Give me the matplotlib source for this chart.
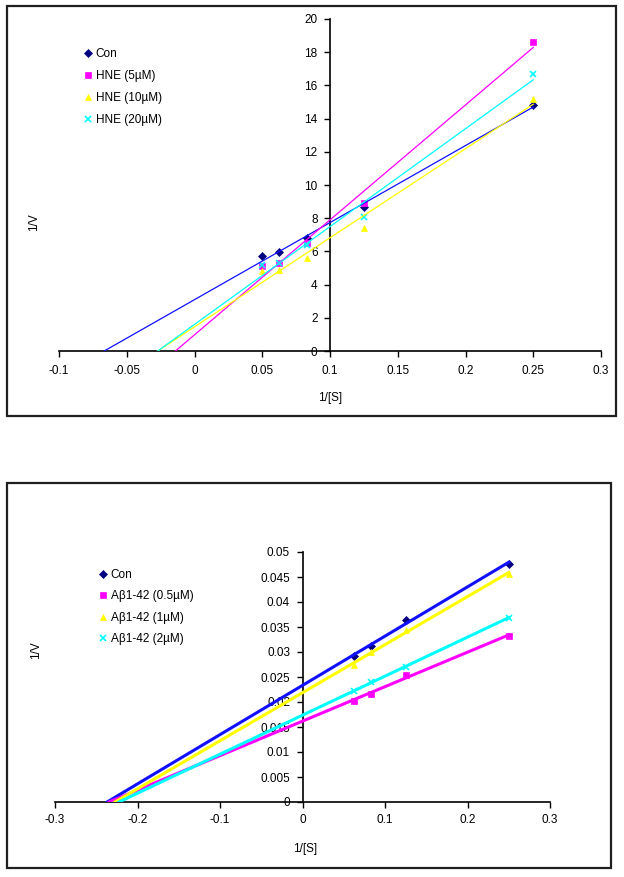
import numpy as np
import matplotlib.pyplot as plt
from matplotlib.patches import Rectangle
from matplotlib.ticker import FuncFormatter

plt.rcParams['font.family'] = ['Liberation Sans', 'DejaVu Sans']

# Top panel: HNE
hne_x = [0.05, 0.0625, 0.0833, 0.125, 0.25]
hne_con = [5.72, 5.94, 6.8, 8.7, 14.8]
hne_5 = [5.1, 5.3, 6.5, 8.9, 18.6]
hne_10 = [4.8, 4.9, 5.6, 7.4, 15.2]
hne_20 = [5.2, 5.3, 6.4, 8.05, 16.7]
hne_labels = ['Con', 'HNE (5µM)', 'HNE (10µM)', 'HNE (20µM)']

# Bottom panel: Abeta
ab_x = [0.0625, 0.0833, 0.125, 0.25]
ab_con = [0.0292, 0.0312, 0.0365, 0.0477]
ab_05 = [0.0202, 0.0217, 0.0255, 0.0332]
ab_1 = [0.0274, 0.0300, 0.0344, 0.0457]
ab_2 = [0.0222, 0.0240, 0.0270, 0.0369]
ab_labels = ['Con', 'Aβ1-42 (0.5µM)', 'Aβ1-42 (1µM)', 'Aβ1-42 (2µM)']

marker_colors = ['#000080', '#ff00ff', '#ffff00', '#00ffff']
line_colors = ['#1010ff', '#ff00ff', '#ffff00', '#00ffff']
markers = ['D', 's', '^', 'x']

W, H = 624, 877
fig = plt.figure(figsize=(W / 100, H / 100), dpi=100)


def fig_rect(x0, y0, x1, y1):
    # pixel box (top-left origin) -> figure fraction
    return [x0 / W, 1 - y1 / H, (x1 - x0) / W, (y1 - y0) / H]


# outer frames
for box in [(7, 6, 616, 416), (7, 483, 611, 868)]:
    r = fig_rect(*box)
    fig.patches.append(Rectangle((r[0], r[1]), r[2], r[3], transform=fig.transFigure,
                                 fill=False, edgecolor='#202020', linewidth=1.6))


def style_axes(ax, xpos, xlim, ylim, xticks, yticks, lab_xy, ylab_xy, xpad):
    ax.set_xlim(xlim)
    ax.set_ylim(ylim)
    ax.spines['top'].set_visible(False)
    ax.spines['right'].set_visible(False)
    ax.spines['left'].set_position(('data', xpos))
    ax.spines['bottom'].set_position(('data', 0))
    ax.set_xticks(xticks)
    ax.set_yticks(yticks)
    fmt = FuncFormatter(lambda v, p: f'{round(v, 4):g}')
    ax.xaxis.set_major_formatter(fmt)
    ax.yaxis.set_major_formatter(fmt)
    ax.tick_params(axis='y', direction='out', length=4, width=1, pad=5, labelsize=8.5)
    ax.tick_params(axis='x', direction='out', length=4, width=1, pad=xpad, labelsize=8.5)
    for s in ['left', 'bottom']:
        ax.spines[s].set_linewidth(1.2)
    ax.set_xlabel('1/[S]', fontsize=8.5)
    ax.set_ylabel('1/V', fontsize=8.5)
    ax.xaxis.set_label_coords(*lab_xy)
    ax.yaxis.set_label_coords(*ylab_xy)
    ax.patch.set_visible(False)


def draw_series(ax, xs, series, labels, lw, ms):
    for ys, lab, mc, lc, mk in zip(series, labels, marker_colors, line_colors, markers):
        size = ms * 0.85 if mk == 'D' else ms
        ax.plot(xs, ys, linestyle='none', marker=mk, color=mc, markersize=size,
                markeredgewidth=1.2 if mk == 'x' else 0.5, label=lab, zorder=2)
        m, b = np.polyfit(xs, ys, 1)
        x0 = -b / m
        xl = np.array([x0, max(xs)])
        ax.plot(xl, m * xl + b, color=lc, linewidth=lw, zorder=3)


# top chart
ax1 = fig.add_axes(fig_rect(59, 19, 601, 351))
draw_series(ax1, hne_x, [hne_con, hne_5, hne_10, hne_20], hne_labels, 0.9, 5)
style_axes(ax1, 0.1, (-0.1, 0.3), (0, 20), np.arange(-0.1, 0.31, 0.05),
           np.arange(0, 21, 2), (0.5, -0.123), (-0.035, 0.389), 6)
ax1.legend(loc='upper left', bbox_to_anchor=(84 / W, 1 - 48 / H), bbox_transform=fig.transFigure,
           frameon=False, fontsize=8.5, handlelength=0.6, handletextpad=0.4,
           labelspacing=0.85, borderpad=0, borderaxespad=0)

# bottom chart
ax2 = fig.add_axes(fig_rect(55, 552, 550, 802))
draw_series(ax2, ab_x, [ab_con, ab_05, ab_1, ab_2], ab_labels, 2.2, 5)
style_axes(ax2, 0.0, (-0.3, 0.3), (0, 0.05), np.arange(-0.3, 0.31, 0.1),
           np.arange(0, 0.0501, 0.005), (0.505, -0.164), (-0.026, 0.608), 4.5)
ax2.legend(loc='upper left', bbox_to_anchor=(99 / W, 1 - 569 / H), bbox_transform=fig.transFigure,
           frameon=False, fontsize=8.5, handlelength=0.6, handletextpad=0.4,
           labelspacing=0.8, borderpad=0, borderaxespad=0)

fig.savefig('out.png', dpi=100)
